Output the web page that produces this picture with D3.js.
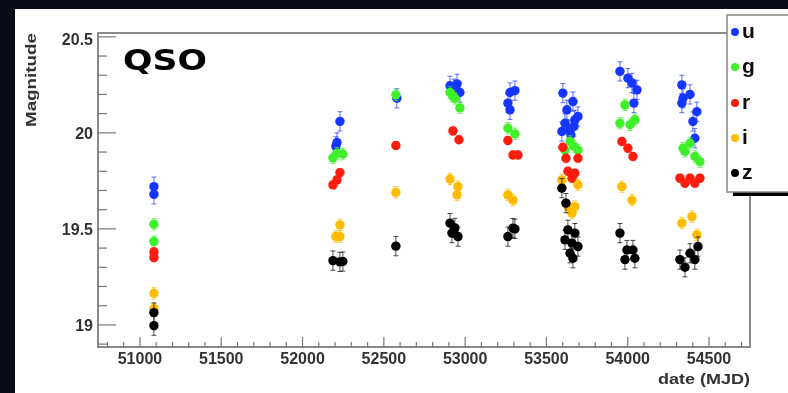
<!DOCTYPE html>
<html>
<head>
<meta charset="utf-8">
<script src="https://cdn.jsdelivr.net/npm/d3@7"></script>
<style>
  html, body { margin: 0; padding: 0; background: #0b0c1a; }
  svg { display: block; }
</style>
</head>
<body>
<div id="chart"></div>
<script>
// light curve points per band: [date (MJD), magnitude]
const uPoints = [
  [51086, 19.72], [51086, 19.68],
  [52230, 20.06], [52205, 19.93], [52212, 19.95],
  [52580, 20.18],
  [52907, 20.245], [52950, 20.255], [52968, 20.21], [52930, 20.23],
  [53276, 20.21], [53306, 20.22], [53263, 20.155], [53276, 20.12],
  [53601, 20.207], [53663, 20.163], [53626, 20.12], [53675, 20.068], [53614, 20.05],
  [53694, 20.085], [53645, 20.016], [53595, 20.007], [53669, 20.033], [53650, 19.99],
  [53952, 20.32], [54001, 20.285], [54026, 20.26], [54057, 20.224], [54038, 20.155],
  [54333, 20.25], [54333, 20.155], [54425, 20.11], [54401, 20.059], [54413, 19.972],
  [54383, 20.2], [54340, 20.18]
];
const gPoints = [
  [51086, 19.524], [51086, 19.434],
  [52212, 19.894], [52248, 19.89], [52187, 19.87],
  [52574, 20.198],
  [52907, 20.21], [52937, 20.18], [52968, 20.13], [52925, 20.19],
  [53263, 20.024], [53306, 19.995],
  [53645, 19.955], [53694, 19.91], [53614, 19.91], [53670, 19.93],
  [53983, 20.146], [53952, 20.05], [54014, 20.042], [54044, 20.068],
  [54352, 19.903], [54413, 19.877], [54444, 19.85], [54383, 19.946], [54340, 19.92]
];
const rPoints = [
  [51086, 19.38], [51086, 19.35],
  [52230, 19.793], [52212, 19.755], [52187, 19.729],
  [52574, 19.934],
  [52925, 20.01], [52962, 19.964],
  [53263, 19.96], [53294, 19.885], [53325, 19.885],
  [53601, 19.925], [53620, 19.868], [53694, 19.868], [53632, 19.8], [53675, 19.79], [53657, 19.764],
  [53964, 19.955], [54001, 19.92], [54032, 19.877],
  [54321, 19.764], [54383, 19.764], [54444, 19.764], [54352, 19.738], [54413, 19.738]
];
const iPoints = [
  [51086, 19.165], [51086, 19.085],
  [52230, 19.521], [52205, 19.46], [52230, 19.46],
  [52574, 19.69],
  [52907, 19.76], [52956, 19.72], [52950, 19.677],
  [53263, 19.677], [53294, 19.65],
  [53595, 19.755], [53694, 19.73], [53632, 19.616], [53675, 19.616], [53657, 19.582],
  [53964, 19.72], [54026, 19.65],
  [54333, 19.53], [54395, 19.564], [54425, 19.469]
];
const zPoints = [
  [51086, 19.064], [51086, 18.996],
  [52187, 19.335], [52230, 19.328], [52248, 19.33],
  [52574, 19.41],
  [52907, 19.53], [52919, 19.478], [52956, 19.46], [52937, 19.505],
  [53294, 19.504], [53263, 19.46], [53306, 19.5],
  [53595, 19.712], [53620, 19.634], [53632, 19.495], [53675, 19.478], [53614, 19.443],
  [53657, 19.426], [53694, 19.408], [53645, 19.373], [53663, 19.347],
  [53952, 19.478], [53995, 19.39], [54032, 19.39], [54044, 19.347], [53983, 19.34],
  [54321, 19.34], [54383, 19.373], [54432, 19.408], [54352, 19.30], [54413, 19.34]
];
const bandNames = ["u", "g", "r", "i", "z"];
const bandErrors = [0.05, 0.03, 0.02, 0.03, 0.05];
const xTicks = [51000, 51500, 52000, 52500, 53000, 53500, 54000, 54500];
const yTicks = [19, 19.5, 20, 20.5];

const W = 788, H = 393;
const plotL = 98, plotT = 33, plotR = 750, plotB = 347;
const colors = ["#1834ff", "#3ef02a", "#ff1c0c", "#ffbb00", "#000000"];
const bands = [uPoints, gPoints, rPoints, iPoints, zPoints];

const svg = d3.select("#chart").append("svg")
  .attr("width", W).attr("height", H)
  .style("font-family", "'Liberation Sans', Arial, sans-serif");

const defs = svg.append("defs");
defs.append("filter").attr("id", "soft")
  .append("feGaussianBlur").attr("stdDeviation", 0.6);

// dark backdrop and white page
svg.append("rect").attr("width", W).attr("height", H).attr("fill", "#0b0c1a");
svg.append("rect").attr("x", 15).attr("y", 9).attr("width", W - 15).attr("height", H - 9).attr("fill", "#fff");

const g = svg.append("g").attr("filter", "url(#soft)");

const x = d3.scaleLinear().domain([50742, 54752]).range([plotL, plotR]);
const y = d3.scaleLinear().domain([18.885, 20.52]).range([plotB, plotT]);

// frame
g.append("rect").attr("x", plotL).attr("y", plotT)
  .attr("width", plotR - plotL).attr("height", plotB - plotT)
  .attr("fill", "none").attr("stroke", "#8a8a8a").attr("stroke-width", 2);

// x ticks (inward)
const xMinor = d3.range(50800, 54751, 100);
g.append("g").selectAll("line").data(xMinor).enter().append("line")
  .attr("x1", d => x(d)).attr("x2", d => x(d))
  .attr("y1", plotB).attr("y2", d => plotB - (d % 500 === 0 ? 10 : 5))
  .attr("stroke", "#777").attr("stroke-width", 1.2);
g.append("g").selectAll("text").data(xTicks).enter().append("text")
  .attr("x", d => x(d)).attr("y", 364)
  .attr("text-anchor", "middle")
  .style("font-size", "16px").style("font-weight", "bold").attr("fill", "#333")
  .text(d => d);

// y ticks (inward)
const yMinor = d3.range(189, 206, 1).map(v => v / 10);
g.append("g").selectAll("line").data(yMinor).enter().append("line")
  .attr("y1", d => y(d)).attr("y2", d => y(d))
  .attr("x1", plotL).attr("x2", d => plotL + (Math.round(d * 10) % 5 === 0 ? 18 : 9))
  .attr("stroke", "#777").attr("stroke-width", 1.2);
g.append("g").selectAll("text").data(yTicks).enter().append("text")
  .attr("x", 93).attr("y", d => y(d) + 6 + (d === 20.5 ? 2 : 0))
  .attr("text-anchor", "end")
  .style("font-size", "16px").style("font-weight", "bold").attr("fill", "#333")
  .text(d => d);

// axis titles
g.append("text")
  .attr("transform", `translate(36,${plotT}) rotate(-90)`)
  .attr("text-anchor", "end")
  .attr("textLength", 94).attr("lengthAdjust", "spacingAndGlyphs")
  .style("font-size", "14px").style("font-weight", "bold").attr("fill", "#333")
  .text("Magnitude");
g.append("text")
  .attr("x", 658).attr("y", 384)
  .attr("textLength", 92).attr("lengthAdjust", "spacingAndGlyphs")
  .style("font-size", "15px").style("font-weight", "bold").attr("fill", "#333")
  .text("date (MJD)");

// title
g.append("text")
  .attr("x", 123).attr("y", 70)
  .attr("textLength", 84).attr("lengthAdjust", "spacingAndGlyphs")
  .style("font-family", "'DejaVu Sans', sans-serif")
  .style("font-size", "29px").style("font-weight", "bold").attr("fill", "#000")
  .text("QSO");

// error bars and markers, band by band
bands.forEach((pts, bi) => {
  const err = bandErrors[bi];
  const layer = g.append("g");
  layer.selectAll("line.err").data(pts).enter().append("line")
    .attr("x1", d => x(d[0])).attr("x2", d => x(d[0]))
    .attr("y1", d => y(d[1] - err)).attr("y2", d => y(d[1] + err))
    .attr("stroke", colors[bi]).attr("stroke-width", 1).attr("opacity", 0.7);
  [-1, 1].forEach(s => {
    layer.selectAll(null).data(pts).enter().append("line")
      .attr("x1", d => x(d[0]) - 2.5).attr("x2", d => x(d[0]) + 2.5)
      .attr("y1", d => y(d[1] + s * err)).attr("y2", d => y(d[1] + s * err))
      .attr("stroke", colors[bi]).attr("stroke-width", 1).attr("opacity", 0.7);
  });
  layer.selectAll("circle").data(pts).enter().append("circle")
    .attr("cx", d => x(d[0])).attr("cy", d => y(d[1]))
    .attr("r", 4.7).attr("fill", colors[bi]);
});

// legend with shadow
const lg = g.append("g");
lg.append("rect").attr("x", 733).attr("y", 192).attr("width", 60).attr("height", 4).attr("fill", "#000");
lg.append("rect").attr("x", 727).attr("y", 15).attr("width", 70).attr("height", 177)
  .attr("fill", "#fff").attr("stroke", "#888").attr("stroke-width", 1.5);
const legendY = [32, 67, 103, 138, 173];
bandNames.forEach((n, i) => {
  lg.append("circle").attr("cx", 735).attr("cy", legendY[i]).attr("r", 4).attr("fill", colors[i]);
  lg.append("text").attr("x", 742).attr("y", legendY[i] + 6)
    .style("font-size", "21px").style("font-weight", "bold").attr("fill", "#111")
    .text(n);
});
</script>
</body>
</html>
